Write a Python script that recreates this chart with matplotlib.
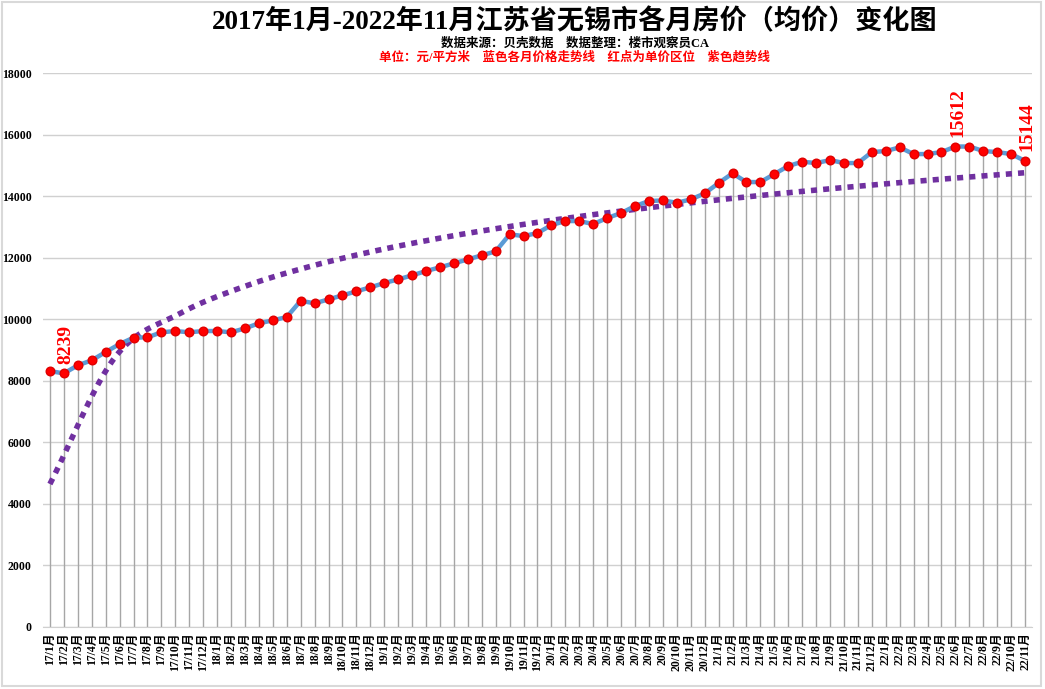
import numpy as np
import matplotlib
matplotlib.use("Agg")
import matplotlib.pyplot as plt
from matplotlib.patches import Rectangle

plt.rcParams['font.family'] = ['Liberation Serif', 'Noto Sans CJK SC', 'DejaVu Sans']

# monthly average price, 2017/1 - 2022/11 (yuan / m2)
months = [f"{y}/{m}月" for y in range(17, 23) for m in range(1, 13)][:71]
prices = [
    8317, 8239, 8502, 8665, 8934, 9194, 9400, 9412, 9575, 9617, 9575, 9617,
    9617, 9575, 9704, 9867, 9964, 10071, 10601, 10516, 10646, 10776, 10906, 11036,
    11176, 11296, 11426, 11566, 11686, 11816, 11946, 12076, 12206, 12758, 12703, 12800,
    13060, 13190, 13190, 13093, 13288, 13450, 13678, 13840, 13861, 13785, 13893, 14088,
    14425, 14740, 14457, 14457, 14717, 14977, 15118, 15075, 15172, 15075, 15075, 15432,
    15465, 15584, 15367, 15367, 15432, 15612, 15612, 15465, 15432, 15367, 15144,
]
labelled = {"17/2月": 8239, "22/6月": 15612, "22/11月": 15144}

x = np.arange(len(months))
y = np.array(prices)

# logarithmic trend line, like excel does it: fit, sample coarse, smooth
a, b = np.polyfit(np.log(x + 1), y, 1)
xs = np.linspace(0, len(x) - 1, 16)
ys = a * np.log(xs + 1) + b
m = np.gradient(ys)
tx, ty = [], []
for i in range(len(xs) - 1):
    t = np.linspace(0, 1, 30)
    h00 = 2 * t**3 - 3 * t**2 + 1
    h10 = t**3 - 2 * t**2 + t
    h01 = -2 * t**3 + 3 * t**2
    h11 = t**3 - t**2
    tx.extend(xs[i] + t * (xs[i + 1] - xs[i]))
    ty.extend(h00 * ys[i] + h10 * m[i] + h01 * ys[i + 1] + h11 * m[i + 1])

fig = plt.figure(figsize=(10.45, 6.89), dpi=100)
ax = fig.add_axes([0.0411, 0.090, 0.9465, 0.804])

ax.vlines(x, 0, y, color="#a6a6a6", linewidth=1, zorder=1)
ax.plot(x, y, color="#5b9bd5", linewidth=3.2, zorder=3)
ax.plot(x, y, linestyle="none", marker="o", markersize=6.2,
        markerfacecolor="#ff0000", markeredgecolor="#e00000", zorder=4)
ax.plot(tx, ty, color="#7030a0", linewidth=4, linestyle=(0, (1.1, 1.1)),
        dash_capstyle="butt", zorder=2)

for lab, val in labelled.items():
    i = months.index(lab)
    ax.annotate(str(val), (i, val), xytext=(1.5, 7), textcoords="offset points",
                rotation=90, ha="center", va="bottom", color="#ff0000",
                fontsize=14, fontweight="bold")

ax.set_xlim(-0.5, len(months) - 0.5)
ax.set_ylim(0, 18000)
ax.set_yticks(range(0, 18001, 2000))
ax.set_yticklabels([str(v) for v in range(0, 18001, 2000)], fontsize=8.5,
                   fontweight="bold")
ax.set_xticks(x)
ax.set_xticklabels(months, rotation=90, fontsize=8.5, fontweight="bold")
ax.tick_params(axis="both", length=0, pad=4)
ax.tick_params(axis="y", pad=8)
ax.grid(axis="y", color="#d0d0d0", linewidth=1)
ax.set_axisbelow(True)
for s in ["top", "right", "left"]:
    ax.spines[s].set_visible(False)
ax.spines["bottom"].set_color("#d0d0d0")

fig.text(0.55, 0.968, "2017年1月-2022年11月江苏省无锡市各月房价（均价）变化图",
         ha="center", va="center", fontsize=19.5, fontweight="bold")
fig.text(0.55, 0.936, "数据来源：贝壳数据    数据整理：楼市观察员CA",
         ha="center", va="center", fontsize=9, fontweight="bold")
fig.text(0.55, 0.916, "单位：元/平方米    蓝色各月价格走势线    红点为单价区位    紫色趋势线",
         ha="center", va="center", fontsize=9, fontweight="bold", color="#ff0000")

fig.add_artist(Rectangle((0.002, 0.004), 0.994, 0.993, transform=fig.transFigure,
                         fill=False, edgecolor="#d9d9d9", linewidth=1.5))

fig.savefig("out.png", dpi=100)
